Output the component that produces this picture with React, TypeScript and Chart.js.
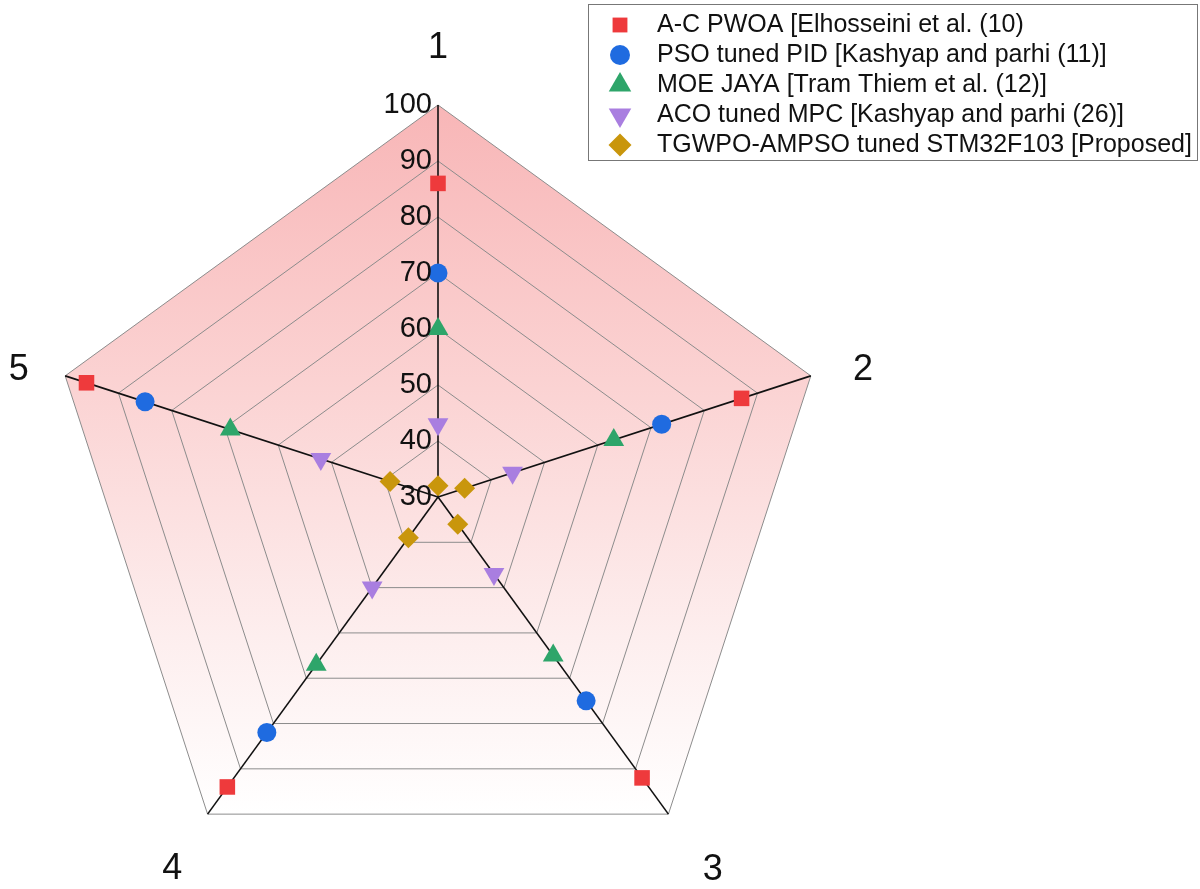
import React, { useEffect, useRef } from "react";
import { Chart, registerables } from "chart.js";
import { drawPoint } from "chart.js/helpers";

Chart.register(...registerables);

const categories = ["1", "2", "3", "4", "5"];
const tickValues = [30, 40, 50, 60, 70, 80, 90, 100];

const seriesNames = [
  "A-C PWOA [Elhosseini et al. (10)",
  "PSO tuned PID [Kashyap and parhi (11)]",
  "MOE JAYA [Tram Thiem et al. (12)]",
  "ACO tuned MPC [Kashyap and parhi (26)]",
  "TGWPO-AMPSO tuned STM32F103 [Proposed]",
];
const acPwoa = [86, 87, 92, 94, 96];
const psoPid = [70, 72, 75, 82, 85];
const moeJaya = [60, 63, 65, 67, 69];
const acoMpc = [43, 44, 47, 50, 52];
const tgwpo = [32, 35, 36, 39, 39];

const colors = ["#ee3a3c", "#1f6be0", "#2ea56a", "#a97ee0", "#c9960c"];
const styles = ["rect", "circle", "triangle", "triangle", "rectRot"];
const rotations = [0, 0, 0, 180, 0];
const radii = [11, 9.5, 12, 12, 10.5];
const legendRadii = [10.5, 10, 13, 13, 11.5];
const labelNudge = [
  [0, -2],
  [0, 11],
  [12, 11],
  [-3, 10],
  [6, 11],
];

const FONT = "'Liberation Sans', Arial, sans-serif";

const bgPlugin = {
  id: "bgFill",
  beforeDraw(chart: any) {
    const scale = chart.scales.r;
    const ctx = chart.ctx;
    const n = chart.data.labels.length;
    ctx.save();
    ctx.beginPath();
    for (let i = 0; i < n; i++) {
      const p = scale.getPointPosition(i, scale.drawingArea);
      if (i === 0) ctx.moveTo(p.x, p.y);
      else ctx.lineTo(p.x, p.y);
    }
    ctx.closePath();
    const top = scale.yCenter - scale.drawingArea;
    const bottom = scale.getPointPosition(2, scale.drawingArea).y;
    const g = ctx.createLinearGradient(0, top, 0, bottom);
    g.addColorStop(0, "#f8b6b7");
    g.addColorStop(0.4, "#fbd3d3");
    g.addColorStop(0.75, "#fdeeee");
    g.addColorStop(1, "#ffffff");
    ctx.fillStyle = g;
    ctx.fill();
    ctx.restore();
  },
};

const labelPlugin = {
  id: "customLabels",
  afterDatasetsDraw(chart: any) {
    const scale = chart.scales.r;
    const ctx = chart.ctx;
    ctx.save();
    // tick labels
    ctx.fillStyle = "#111";
    ctx.font = `29px ${FONT}`;
    ctx.textAlign = "right";
    ctx.textBaseline = "middle";
    tickValues.forEach((v) => {
      const d = scale.getDistanceFromCenterForValue(v);
      ctx.fillText(String(v), scale.xCenter - 6, scale.yCenter - d);
    });
    // point labels
    ctx.font = `36px ${FONT}`;
    ctx.textAlign = "center";
    chart.data.labels.forEach((lab: string, i: number) => {
      const p = scale.getPointPosition(i, scale.drawingArea + 55);
      ctx.fillText(lab, p.x + labelNudge[i][0], p.y + labelNudge[i][1]);
    });
    // legend
    const bx = 588, by = 4, bw = 609, bh = 156;
    ctx.fillStyle = "#ffffff";
    ctx.fillRect(bx, by, bw, bh);
    ctx.strokeStyle = "#777";
    ctx.lineWidth = 1;
    ctx.strokeRect(bx + 0.5, by + 0.5, bw, bh);
    ctx.font = `25px ${FONT}`;
    ctx.textAlign = "left";
    chart.data.datasets.forEach((ds: any, i: number) => {
      const y = by + 21 + i * 30;
      ctx.fillStyle = colors[i];
      drawPoint(
        ctx,
        { pointStyle: styles[i], rotation: rotations[i], radius: legendRadii[i], borderWidth: 0 },
        620,
        y
      );
      ctx.fillStyle = "#111";
      ctx.fillText(ds.label, 657, y);
    });
    ctx.restore();
  },
};

export default function App() {
  const ref = useRef<HTMLCanvasElement | null>(null);
  useEffect(() => {
    if (!ref.current) return;
    const all = [acPwoa, psoPid, moeJaya, acoMpc, tgwpo];
    const chart = new Chart(ref.current, {
      type: "radar",
      data: {
        labels: categories,
        datasets: all.map((d, i) => ({
          label: seriesNames[i],
          data: d,
          borderColor: "transparent",
          backgroundColor: "transparent",
          borderWidth: 0,
          fill: false,
          pointStyle: styles[i] as any,
          pointRotation: rotations[i],
          pointRadius: radii[i],
          pointHoverRadius: radii[i],
          pointBackgroundColor: colors[i],
          pointBorderColor: colors[i],
          pointBorderWidth: 0,
        })),
      },
      options: {
        animation: false,
        responsive: false,
        layout: { padding: { top: 105, bottom: 0, left: 46, right: 370 } },
        plugins: {
          legend: { display: false },
          tooltip: { enabled: false },
        },
        scales: {
          r: {
            min: 30,
            max: 100,
            ticks: { display: false, stepSize: 10 },
            pointLabels: { display: false },
            grid: { color: "#8c8c8c", lineWidth: 1 },
            angleLines: { color: "#111", lineWidth: 1.6 },
          },
        },
      },
      plugins: [bgPlugin, labelPlugin],
    });
    return () => chart.destroy();
  }, []);
  return (
    <div style={{ position: "fixed", left: 0, top: 0, width: 1200, height: 889, background: "#fff" }}>
      <canvas ref={ref} width={1200} height={889} style={{ display: "block" }} />
    </div>
  );
}
